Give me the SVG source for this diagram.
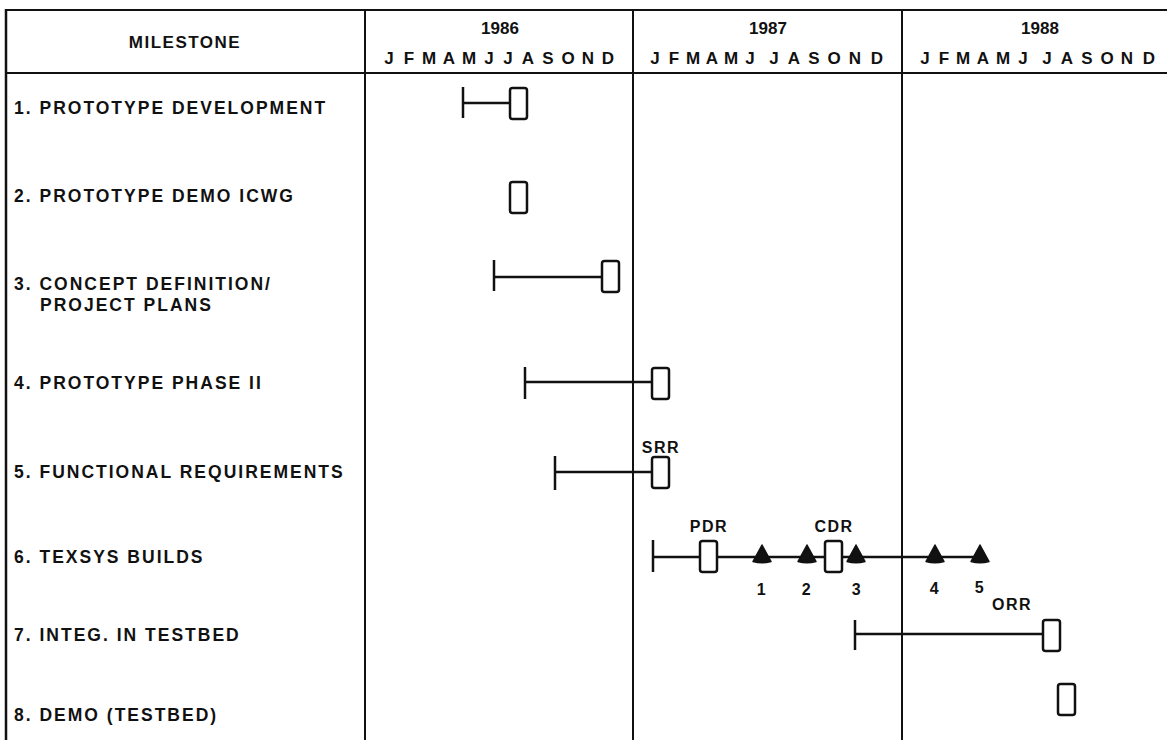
<svg xmlns="http://www.w3.org/2000/svg" width="1167" height="740" viewBox="0 0 1167 740">
<style>
.t{font-family:"Liberation Sans",Arial,sans-serif;font-weight:bold;font-size:17.5px;fill:#111;letter-spacing:2px}
.h{font-family:"Liberation Sans",Arial,sans-serif;font-weight:bold;font-size:17px;fill:#111}
.m{font-family:"Liberation Sans",Arial,sans-serif;font-weight:bold;font-size:17px;fill:#111;text-anchor:middle}
.s{font-family:"Liberation Sans",Arial,sans-serif;font-weight:bold;font-size:16px;fill:#111;text-anchor:middle;letter-spacing:1.5px}
.g{stroke:#111;stroke-width:2;fill:none}
.b{stroke:#111;stroke-width:2.5;fill:none}
.bx{stroke:#111;stroke-width:2.5;fill:#fff}
.tri{fill:#111;stroke:#111;stroke-width:1.5;stroke-linejoin:round}
</style>
<defs>
<rect id="box" x="0" y="0" width="17" height="31" rx="2.5" class="bx"/>
<path id="tri" d="M0,-12 L9,4.5 Q0,7 -9,4.5 Z" class="tri"/>
</defs>
<rect width="1167" height="740" fill="#fff"/>
<g id="grid">
<line x1="5" y1="10" x2="1167" y2="10" class="g"/>
<line x1="5" y1="73" x2="1167" y2="73" class="g"/>
<line x1="6" y1="9" x2="6" y2="740" class="b"/>
<line x1="365" y1="9" x2="365" y2="740" class="g"/>
<line x1="633" y1="9" x2="633" y2="740" class="g"/>
<line x1="902" y1="9" x2="902" y2="740" class="g"/>
</g>
<g id="header">
<text class="h" x="185" y="48" text-anchor="middle" letter-spacing="1.5">MILESTONE</text>
<text class="m" x="500" y="34">1986</text>
<text class="m" x="768" y="34">1987</text>
<text class="m" x="1040" y="34">1988</text>
<text class="m" x="389 409 429 449 469 489 508 528 548 568 588 608" y="64">JFMAMJJASOND</text>
<text class="m" x="655 674 693 712 731 750 774 794 814 834 855 877" y="64">JFMAMJJASOND</text>
<text class="m" x="925 944 963 983 1003 1023 1047 1067 1087 1107 1127 1149" y="64">JFMAMJJASOND</text>
</g>
<g id="labels">
<text class="t" x="14" y="114">1. PROTOTYPE DEVELOPMENT</text>
<text class="t" x="14" y="202">2. PROTOTYPE DEMO ICWG</text>
<text class="t" x="14" y="290">3. CONCEPT DEFINITION/</text>
<text class="t" x="40" y="311">PROJECT PLANS</text>
<text class="t" x="14" y="389">4. PROTOTYPE PHASE II</text>
<text class="t" x="14" y="478">5. FUNCTIONAL REQUIREMENTS</text>
<text class="t" x="14" y="563">6. TEXSYS BUILDS</text>
<text class="t" x="14" y="641">7. INTEG. IN TESTBED</text>
<text class="t" x="14" y="721">8. DEMO (TESTBED)</text>
</g>
<g id="connectors">
<line x1="463" y1="103" x2="510" y2="103" class="b"/>
<line x1="463" y1="87" x2="463" y2="118" class="b"/>
<line x1="494" y1="277" x2="603" y2="277" class="b"/>
<line x1="494" y1="260" x2="494" y2="291" class="b"/>
<line x1="525" y1="382" x2="652" y2="382" class="b"/>
<line x1="525" y1="367" x2="525" y2="399" class="b"/>
<line x1="555" y1="472" x2="652" y2="472" class="b"/>
<line x1="555" y1="456" x2="555" y2="490" class="b"/>
<line x1="653" y1="557" x2="980" y2="557" class="b"/>
<line x1="653" y1="540" x2="653" y2="572" class="b"/>
<line x1="855" y1="634" x2="1043" y2="634" class="b"/>
<line x1="855" y1="620" x2="855" y2="650" class="b"/>
</g>
<g id="m1"><use href="#box" x="510" y="88"/></g>
<g id="m2"><use href="#box" x="510" y="182"/></g>
<g id="m3"><use href="#box" x="602" y="261"/></g>
<g id="m4"><use href="#box" x="652" y="368"/></g>
<g id="m5"><use href="#box" x="652" y="457"/><text class="s" x="661" y="453">SRR</text></g>
<g id="m6">
<use href="#box" x="700" y="541"/><text class="s" x="709" y="532">PDR</text>
<use href="#box" x="825" y="541"/><text class="s" x="834" y="532">CDR</text>
<use href="#tri" x="762" y="557"/>
<use href="#tri" x="807" y="557"/>
<use href="#tri" x="856" y="557"/>
<use href="#tri" x="935" y="557"/>
<use href="#tri" x="980" y="557"/>
<text class="s" x="762" y="595">1</text>
<text class="s" x="807" y="595">2</text>
<text class="s" x="857" y="595">3</text>
<text class="s" x="935" y="594">4</text>
<text class="s" x="980" y="593">5</text>
</g>
<g id="m7"><use href="#box" x="1043" y="620"/><text class="s" x="1012" y="610">ORR</text></g>
<g id="m8"><use href="#box" x="1058" y="684"/></g>
</svg>
